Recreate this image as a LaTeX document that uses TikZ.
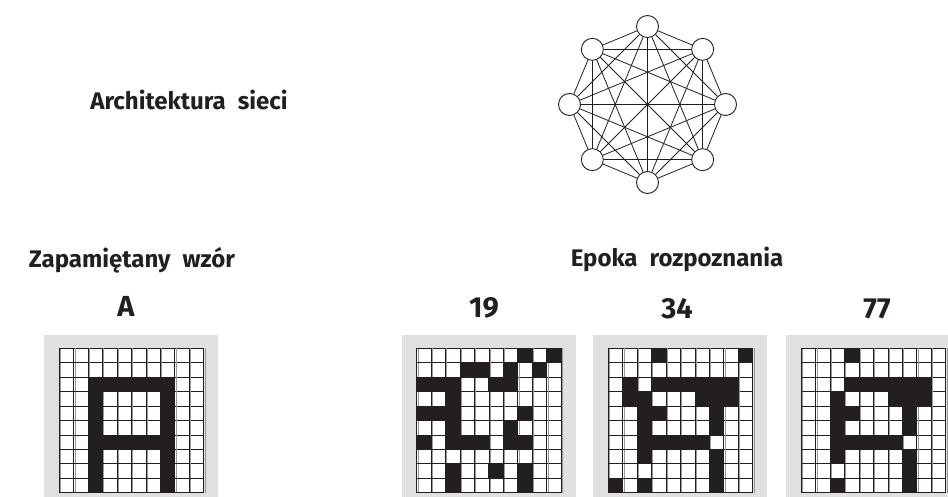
\documentclass[tikz,border=0pt]{standalone}
\usepackage{fontspec}
\setmainfont{Fira Sans}
\usepackage{tikz}
\usetikzlibrary{positioning}

\definecolor{tekst}{HTML}{231F20}
\definecolor{tlo}{HTML}{E0E0E2}

\tikzset{
  napis/.style={font=\bfseries\fontsize{24}{28}\selectfont, text=tekst, inner sep=0pt, anchor=base},
  numer/.style={font=\bfseries\fontsize{29}{32}\selectfont, text=tekst, inner sep=0pt, anchor=base},
  wezel/.style={circle, draw=tekst, fill=white, minimum size=22pt, inner sep=0pt, line width=0.9pt},
  krawedz/.style={draw=tekst, line width=0.8pt},
  kratka/.style={draw=tekst, line width=0.9pt},
  cien/.style={draw=black!40, line width=1pt},
  pole/.style={fill=tekst}
}

% siatka 10x10: #1 = lewa krawedz, #2 = czarne pola (kolumna/wiersz)
\newcommand{\siatka}[2]{%
  \begin{scope}[shift={(#1,348.3)}]
    \fill[tlo] (-15,-13.3) rectangle (159,150);
    \fill[white] (0,0) rectangle (144.5,144.5);
    \foreach \k in {0,...,10} {
      \draw[cien] (\k*14.45+1.3,0) -- (\k*14.45+1.3,144.5);
      \draw[kratka] (\k*14.45,0) -- (\k*14.45,144.5);
      \draw[kratka] (0,\k*14.45) -- (144.5,\k*14.45);
    }
    \foreach \c/\r in {#2}
      \fill[pole] (\c*14.45-0.5,\r*14.45-0.5) rectangle ++(15.45,15.45);
  \end{scope}}

\begin{document}
\begin{tikzpicture}[x=1pt, y=-1pt]
\useasboundingbox (0,0) rectangle (948,497);
\clip (0,0) rectangle (948,497);

% architektura
\node[napis] (arch) at (189,110) {Architektura\hspace{12pt}sieci};
\begin{scope}[shift={(647.5,104.5)}]
  \foreach \i in {1,...,8}
    \node[wezel] (n\i) at ({90-45*(\i-1)}:78pt) {};
\end{scope}
\foreach \i in {1,...,8} {
  \foreach \j in {1,...,8} {
    \ifnum\i<\j \draw[krawedz] (n\i) -- (n\j); \fi
  }
}

% naglowki
\node[napis] (zap) at (132,267.3) {Zapami\k{e}tany\hspace{12pt}wz\'or};
\node[napis] (epo) at (677,266.7) {Epoka\hspace{12pt}rozpoznania};
\node[numer] (wA) at (126,316.7) {A};
\node[numer] (w19) at (484,317.5) {19};
\node[numer] (w34) at (677,318) {34};
\node[numer] (w77) at (877,318) {77};

% wzory
\siatka{59.3}{2/2,3/2,4/2,5/2,6/2,7/2, 2/3,7/3, 2/4,7/4, 2/5,7/5,
  2/6,3/6,4/6,5/6,6/6,7/6, 2/7,7/7, 2/8,7/8, 2/9,7/9}
\siatka{416.7}{7/0,9/0, 3/1,4/1,6/1,8/1, 0/2,1/2,2/2,5/2,6/2, 2/3,
  0/4,1/4,2/4,7/4, 2/5,6/5, 0/6,2/6,3/6,4/6,6/6,7/6, 2/8,5/8,7/8, 2/9,7/9}
\siatka{608.3}{3/0,9/0, 1/2,3/2,4/2,5/2,6/2,7/2,8/2, 1/3,2/3,6/3,7/3,8/3,
  2/4,3/4,7/4, 2/5,7/5, 2/6,3/6,4/6,5/6,6/6, 2/7,7/7, 7/8, 0/9,2/9,7/9}
\siatka{801.3}{3/0, 3/2,4/2,5/2,6/2,7/2,8/2, 2/3,6/3,7/3,8/3,
  2/4,3/4,7/4, 2/5,7/5, 2/6,3/6,4/6,5/6,6/6, 2/7,7/7, 7/8, 2/9,7/9}
\end{tikzpicture}
\end{document}
